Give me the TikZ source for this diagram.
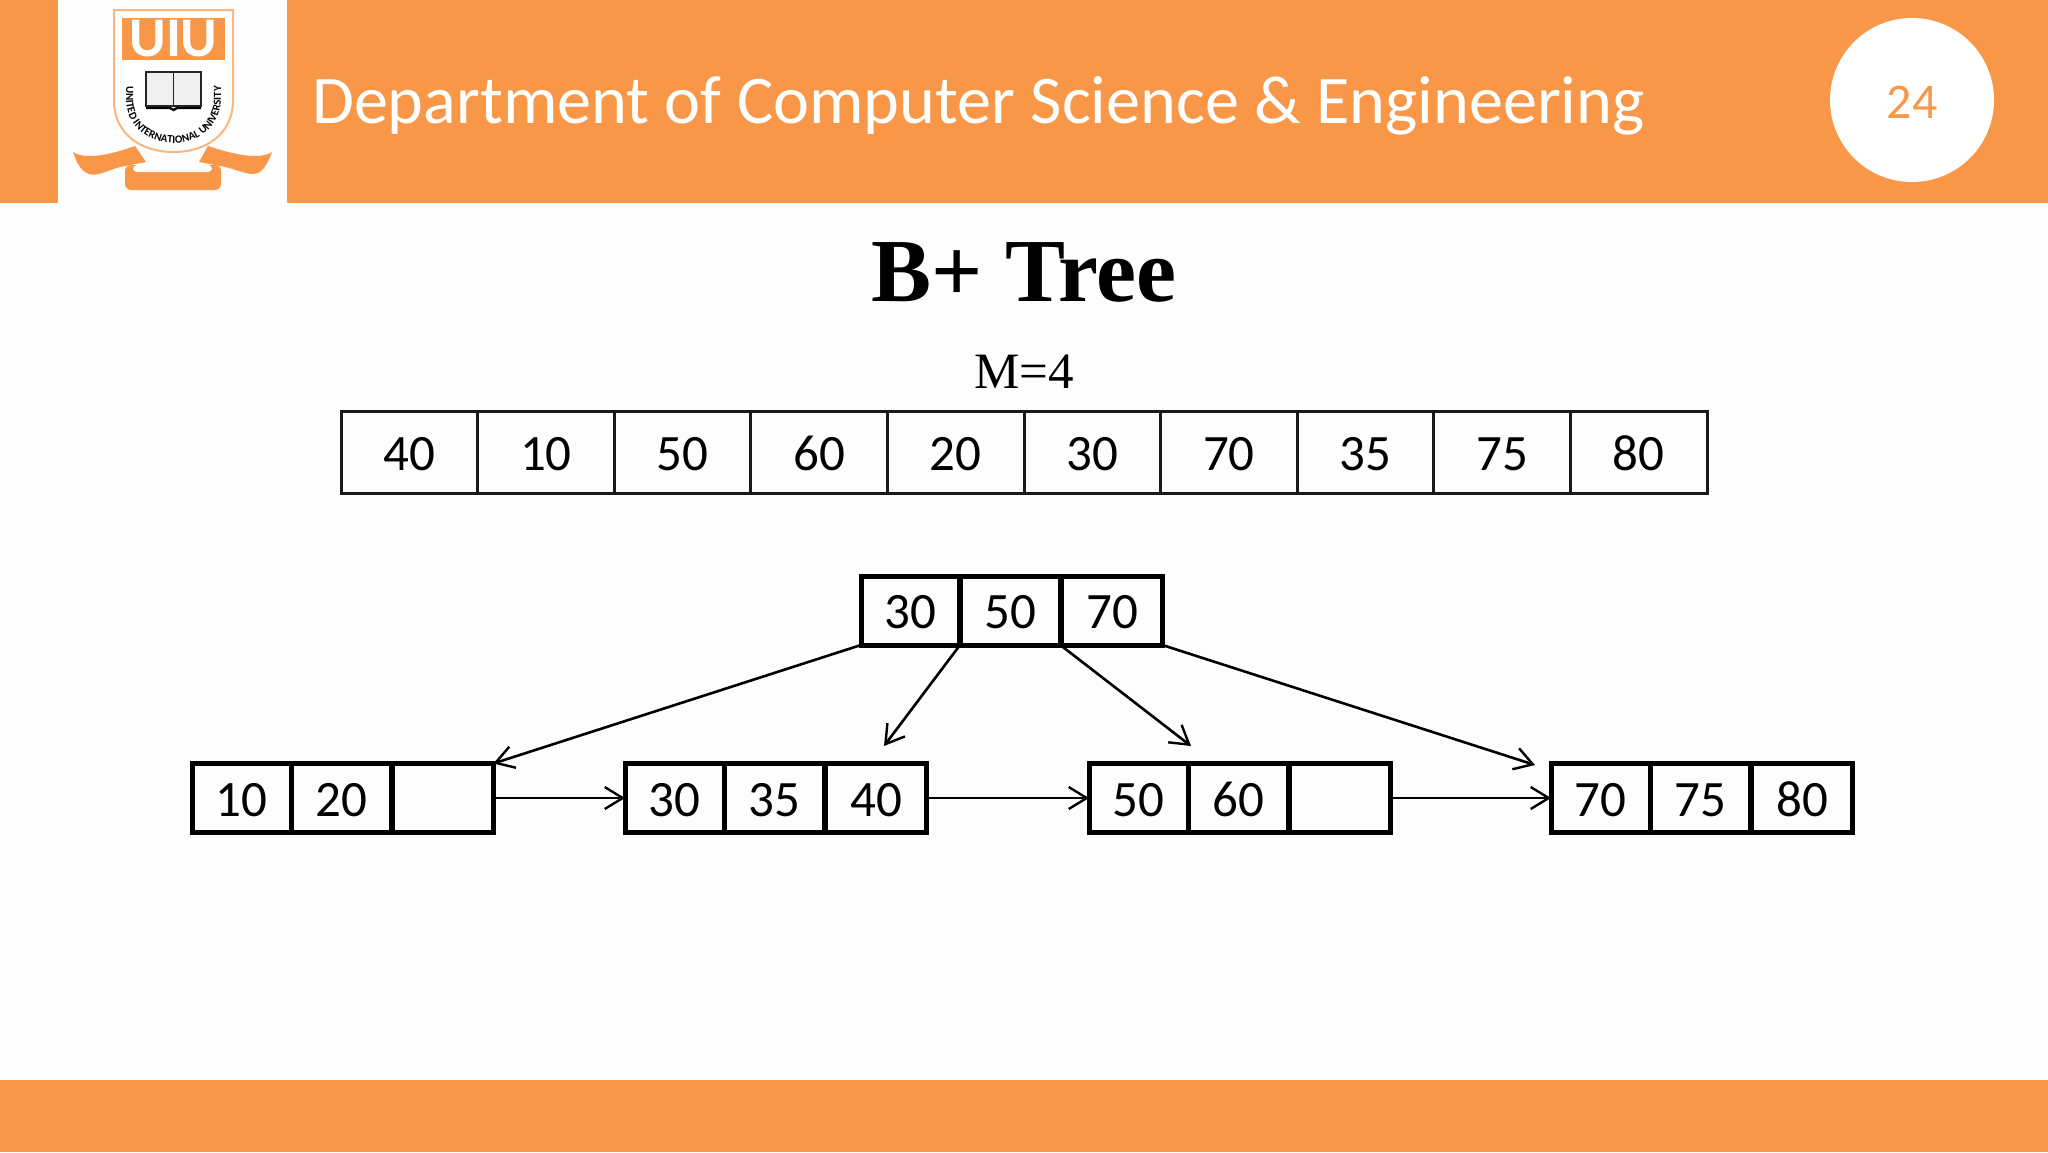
\documentclass[tikz,border=0pt]{standalone}
\usepackage{fontspec}
\setmainfont{Carlito}
\newfontfamily\timesfont{Liberation Serif}
\usetikzlibrary{arrows.meta,decorations.text}
\definecolor{uiuorange}{HTML}{F99749}
\definecolor{pagewhite}{HTML}{FDFDFD}

\begin{document}
\begin{tikzpicture}[
  x=0.5pt, y=-0.5pt,
  >={Straight Barb[length=9pt,width=11pt,line width=1.2pt]},
  arraycell/.style={draw=black!90, line width=1.5pt, minimum width=68.3pt, minimum height=41pt,
    inner sep=0pt, text height=18pt, text depth=0pt, font=\fontsize{25.5}{27}\selectfont},
  treecell/.style={draw=black, line width=2.5pt, minimum width=50.3pt, minimum height=34.5pt,
    inner sep=0pt, outer sep=0pt, text height=18pt, text depth=0pt, font=\fontsize{25.5}{27}\selectfont},
  treeleft/.style={treecell, minimum width=49.5pt},
  link/.style={->, line width=1.3pt, black}
]
  \useasboundingbox (0,0) rectangle (2048,1152);
  \fill[pagewhite] (0,0) rectangle (2048,1152);

  % Header and footer
  \fill[uiuorange] (0,0) rectangle (58,203);
  \fill[uiuorange] (287,0) rectangle (2048,203);
  \fill[uiuorange] (0,1080) rectangle (2048,1152);
  \node[text=white, anchor=west, font=\fontsize{34.1}{36}\selectfont] (dept) at (305,106)
    {Department of Computer Science \& Engineering};
  \node[circle, fill=white, minimum size=82pt, inner sep=0pt] (badge) at (1912,100) {};
  \node[text=uiuorange, font=\fontsize{25}{27}\selectfont] (pageno) at (1912,102) {24};

  % Logo
  \draw[uiuorange!70!white, line width=1pt, fill=white] (114,10) -- (233,10) -- (233,100)
    .. controls (233,135) and (205,152) .. (173.5,152)
    .. controls (142,152) and (114,135) .. (114,100) -- cycle;
  \fill[uiuorange] (122,18) rectangle (225,60);
  \node[text=white, font=\fontsize{28}{29}\selectfont\bfseries] (uiu) at (173.5,39) {UIU};
  \path[decorate, decoration={text along path, text align=center,
      text={|\fontsize{5.5}{6}\selectfont\bfseries|UNITED INTERNATIONAL UNIVERSITY}}]
    (126,68) -- (126,98) .. controls (126,128) and (150,143) .. (173.5,143)
    .. controls (197,143) and (221,128) .. (221,98) -- (221,68);
  \draw[black!85, line width=0.9pt, fill=black!6] (146,72) rectangle (173.5,106);
  \draw[black!85, line width=0.9pt, fill=black!6] (173.5,72) rectangle (201,106);
  \draw[black, line width=1.2pt] (146,108) -- (170,108) -- (173.5,110) -- (177,108) -- (201,108);
  \fill[uiuorange] (73,152) .. controls (85,160) and (110,155) .. (135,146)
    -- (146,162) -- (125,166) .. controls (110,168) and (95,180) .. (85,172)
    .. controls (78,167) and (76,160) .. cycle;
  \fill[uiuorange] (272,152) .. controls (260,160) and (235,155) .. (208,146)
    -- (199,162) -- (220,166) .. controls (235,168) and (250,178) .. (260,172)
    .. controls (266,167) and (269,160) .. cycle;
  \fill[uiuorange, rounded corners=3pt] (125,165) rectangle (221,190);
  \fill[pagewhite, rounded corners=2pt] (133,165) rectangle (212,172);

  % Title
  \node[font=\timesfont\fontsize{45}{47}\selectfont\bfseries] (title) at (1024,272) {B+ Tree};
  \node[font=\timesfont\fontsize{25.5}{27}\selectfont] (order) at (1024,372) {M=4};

  % Input keys
  \node[arraycell] (a1) at (409.3,452) {40};
  \node[arraycell] (a2) at (545.9,452) {10};
  \node[arraycell] (a3) at (682.5,452) {50};
  \node[arraycell] (a4) at (819.1,452) {60};
  \node[arraycell] (a5) at (955.7,452) {20};
  \node[arraycell] (a6) at (1092.3,452) {30};
  \node[arraycell] (a7) at (1228.9,452) {70};
  \node[arraycell] (a8) at (1365.5,452) {35};
  \node[arraycell] (a9) at (1502.1,452) {75};
  \node[arraycell] (a10) at (1638.7,452) {80};

  % Root
  \node[treeleft] (r1) at (910.5,610.5) {30};
  \node[treecell] (r2) at (1010,610.5) {50};
  \node[treecell] (r3) at (1112,610.5) {70};

  % Leaves
  \node[treeleft] (la1) at (241.5,798) {10};
  \node[treecell] (la2) at (341.5,798) {20};
  \node[treecell] (la3) at (443,798) {};
  \node[treeleft] (lb1) at (674.5,798) {30};
  \node[treecell] (lb2) at (774.5,798) {35};
  \node[treecell] (lb3) at (876,798) {40};
  \node[treeleft] (lc1) at (1138.5,798) {50};
  \node[treecell] (lc2) at (1238.5,798) {60};
  \node[treecell] (lc3) at (1340,798) {};
  \node[treeleft] (ld1) at (1600.5,798) {70};
  \node[treecell] (ld2) at (1700.5,798) {75};
  \node[treecell] (ld3) at (1802,798) {80};

  % Free ends above the leaves
  \coordinate (tb) at (884,746);
  \coordinate (tc) at (1191,746);
  \coordinate (td) at (1535,765);

  % Root -> leaves
  \draw[link] (r1.south west) -- (la3.north east);
  \draw[link] (r1.south east) -- (tb);
  \draw[link] (r2.south east) -- (tc);
  \draw[link] (r3.south east) -- (td);

  % Leaf chain
  \draw[link] (la3.east) -- (lb1.west);
  \draw[link] (lb3.east) -- (lc1.west);
  \draw[link] (lc3.east) -- (ld1.west);
\end{tikzpicture}
\end{document}
